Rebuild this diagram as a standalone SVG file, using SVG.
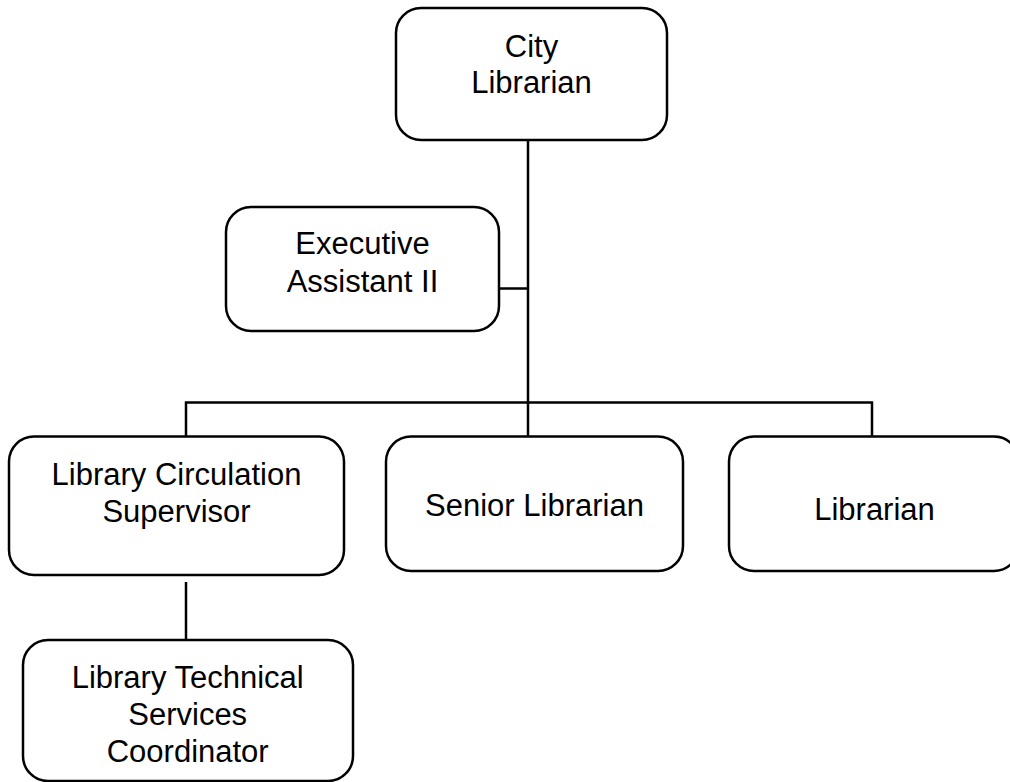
<svg xmlns="http://www.w3.org/2000/svg" width="1010" height="782" viewBox="0 0 1010 782">
<style>
.box{fill:#fff;stroke:#000;stroke-width:2.5}
.lbl{font-family:"Liberation Sans",Arial,sans-serif;font-size:31px;fill:#000;text-anchor:middle}
.con{fill:none;stroke:#000;stroke-width:2.5}
</style>
<rect width="1010" height="782" fill="#fff"/>
<g id="connectors">
<line class="con" x1="528" y1="140" x2="528" y2="403"/>
<line class="con" x1="499" y1="288.5" x2="528" y2="288.5"/>
<polyline class="con" points="186,436.5 186,402.5 872,402.5 872,436.5"/>
<line class="con" x1="528" y1="402.5" x2="528" y2="436.5"/>
<line class="con" x1="186" y1="582" x2="186" y2="640"/>
</g>
<g id="city-librarian">
<rect class="box" x="396" y="8" width="271" height="132" rx="25"/>
<text class="lbl" x="531.5" y="57">City</text>
<text class="lbl" x="531.5" y="93">Librarian</text>
</g>
<g id="executive-assistant">
<rect class="box" x="226" y="207" width="273" height="124" rx="25"/>
<text class="lbl" x="362.5" y="254">Executive</text>
<text class="lbl" x="362.5" y="291.5">Assistant II</text>
</g>
<g id="circulation-supervisor">
<rect class="box" x="9" y="436.5" width="335" height="138.5" rx="25"/>
<text class="lbl" x="176.5" y="485">Library Circulation</text>
<text class="lbl" x="176.5" y="521.5">Supervisor</text>
</g>
<g id="senior-librarian">
<rect class="box" x="386" y="436.5" width="297" height="134.5" rx="25"/>
<text class="lbl" x="534.5" y="516">Senior Librarian</text>
</g>
<g id="librarian">
<rect class="box" x="729" y="436.5" width="290" height="134.5" rx="25"/>
<text class="lbl" x="874.5" y="520">Librarian</text>
</g>
<g id="technical-services">
<rect class="box" x="23" y="640" width="330" height="141" rx="25"/>
<text class="lbl" x="187.7" y="688">Library Technical</text>
<text class="lbl" x="187.7" y="725">Services</text>
<text class="lbl" x="187.7" y="761.5">Coordinator</text>
</g>
</svg>
